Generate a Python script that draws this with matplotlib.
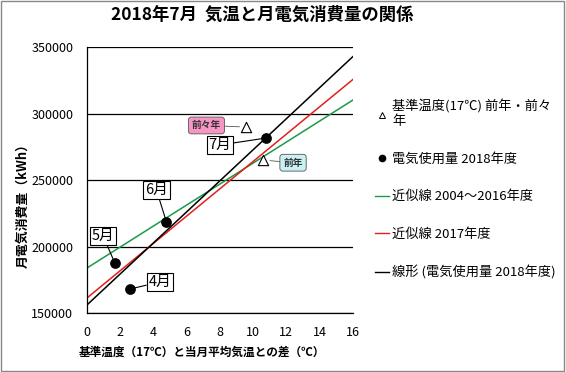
import numpy as np
import matplotlib
matplotlib.use('Agg')
from matplotlib import pyplot as plt
from matplotlib.lines import Line2D
from matplotlib.patches import Rectangle

plt.rcParams['font.family'] = ['Noto Sans CJK JP', 'DejaVu Sans']

# data
months = ['4月', '5月', '6月', '7月']
temp_diff = [2.6, 1.7, 4.8, 10.8]
usage_2018 = [168000, 187600, 218400, 281600]

prev_labels = ['前々年', '前年']
prev_diff = [9.6, 10.6]
prev_usage = [289800, 265000]

# approximation lines (intercept, slope)
fit_2004_2016 = [183600, 7910]
fit_2017 = [161000, 10290]

# label positions (data coords) for the callouts
month_label_x = [4.4, 1.0, 4.2, 8.0]
month_label_y = [173300, 207900, 242500, 276300]
prev_label_x = [7.2, 12.4]
prev_label_y = [291000, 263000]
prev_colors = ['#f596c4', '#c9f0f3']

fig = plt.figure(figsize=(5.66, 3.72), dpi=100)
ax = fig.add_axes([86.5 / 566, 1 - 313 / 372, (353 - 86.5) / 566, (313 - 47) / 372])

xs = np.array([0, 16])
ax.plot(xs, fit_2004_2016[0] + fit_2004_2016[1] * xs, color='#1a9a48', lw=1.1, zorder=2)
ax.plot(xs, fit_2017[0] + fit_2017[1] * xs, color='#e0201b', lw=1.1, zorder=2)
slope, icpt = np.polyfit(temp_diff, usage_2018, 1)
ax.plot(xs, icpt + slope * xs, color='black', lw=1.1, zorder=2)

ax.scatter(temp_diff, usage_2018, s=45, color='black', zorder=4)
ax.scatter(prev_diff, prev_usage, s=55, marker='^', facecolor='white',
           edgecolor='black', linewidths=0.8, zorder=4)

for m, x, y, lx, ly in zip(months, temp_diff, usage_2018, month_label_x, month_label_y):
    ax.annotate(m, xy=(x, y), xytext=(lx, ly), ha='center', va='center', fontsize=10.5,
                bbox=dict(boxstyle='square,pad=0.12', fc='white', ec='black', lw=0.8),
                arrowprops=dict(arrowstyle='-', color='black', lw=0.8, shrinkA=0, shrinkB=3),
                zorder=5)

for t, x, y, lx, ly, c in zip(prev_labels, prev_diff, prev_usage, prev_label_x, prev_label_y, prev_colors):
    ax.annotate(t, xy=(x, y), xytext=(lx, ly), ha='center', va='center', fontsize=7,
                fontweight='bold', color='#333333',
                bbox=dict(boxstyle='round,pad=0.35,rounding_size=0.3', fc=c, ec='#555555', lw=0.6),
                arrowprops=dict(arrowstyle='-', color='#555555', lw=0.6, shrinkA=0, shrinkB=5),
                zorder=5)

ax.set_xlim(0, 16)
ax.set_ylim(150000, 350000)
ax.set_xticks(range(0, 17, 2))
ax.set_yticks(range(150000, 350001, 50000))
ax.grid(axis='y', color='black', lw=0.9)
ax.set_axisbelow(True)
ax.tick_params(length=0, labelsize=9, pad=9.5)
for s in ['right', 'top']:
    ax.spines[s].set_visible(False)
ax.spines['left'].set_linewidth(0.9)
ax.spines['bottom'].set_linewidth(0.9)

fig.text(202 / 566, 1 - 352 / 372, '基準温度（17℃）と当月平均気温との差（℃）', ha='center', va='center',
         fontsize=8.4, fontweight='bold')
fig.text(22 / 566, 1 - 203 / 372, '月電気消費量（kWh）', ha='center', va='center', rotation=90,
         fontsize=9.3, fontweight='bold')
fig.text(262.5 / 566, 1 - 15 / 372, '2018年7月  気温と月電気消費量の関係', ha='center', va='center',
         fontsize=12.5, fontweight='bold')

handles = [
    Line2D([], [], ls='', marker='^', mfc='white', mec='black', ms=4.5, mew=0.7),
    Line2D([], [], ls='', marker='o', color='black', ms=4.5),
    Line2D([], [], color='#1a9a48', lw=1),
    Line2D([], [], color='#e0201b', lw=1),
    Line2D([], [], color='black', lw=1),
]
labels = ['基準温度(17℃) 前年・前々\n年', '電気使用量 2018年度', '近似線 2004～2016年度',
          '近似線 2017年度', '線形 (電気使用量 2018年度)']
leg = fig.legend(handles, labels, loc='upper left', bbox_to_anchor=(363 / 566, 1 - 88 / 372),
                 frameon=False, fontsize=9.5, handlelength=1.1, handletextpad=0.2,
                 labelspacing=1.85)
for t in leg.get_texts():
    t.set_linespacing(1.15)

fig.add_artist(Rectangle((0.002, 0.003), 0.995, 0.993, transform=fig.transFigure,
                         fill=False, ec='#888888', lw=1))

fig.savefig('out.png', dpi=100)
